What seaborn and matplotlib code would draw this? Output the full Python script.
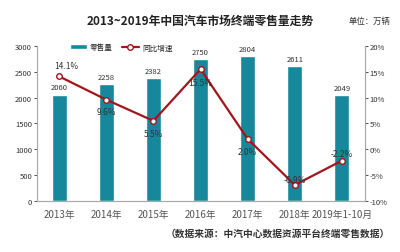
import seaborn as sns
import matplotlib.pyplot as plt
import pandas as pd

years = ["2013年", "2014年", "2015年", "2016年", "2017年", "2018年", "2019年1-10月"]
sales = [2060, 2258, 2382, 2750, 2804, 2611, 2049]
growth = [14.1, 9.6, 5.5, 15.5, 2.0, -6.9, -2.2]
growth_labels = ["14.1%", "9.6%", "5.5%", "15.5%", "2.0%", "-6.9%", "-2.2%"]
left_ticks = [0, 500, 1000, 1500, 2000, 2500, 3000]
right_ticks = [-10, -5, 0, 5, 10, 15, 20]

sns.set_theme(style="white")
plt.rcParams['font.family'] = ['Noto Sans CJK SC', 'DejaVu Sans']

df = pd.DataFrame({"year": years, "sales": sales, "growth": growth, "x": range(len(years))})

fig = plt.figure(figsize=(4, 2.53), dpi=100)
ax = fig.add_axes([0.0925, 0.2016, 0.82, 0.613])

bar_color = "#17879b"
line_color = "#a3141c"

sns.barplot(data=df, x="year", y="sales", color=bar_color, width=0.32, ax=ax,
            saturation=1, label="零售量")
ax.set_xlim(-0.47, 6.49)
ax.set_ylim(0, 3000)
ax.set_yticks(left_ticks)
ax.tick_params(axis='y', labelsize=5.5, length=2, width=0.6, color="#999999", pad=1.5, direction='out')
ax.tick_params(axis='x', labelsize=7, length=0, pad=6, colors="#555555")
ax.set_xlabel("")
ax.set_ylabel("")
for i, v in enumerate(sales):
    ax.text(i, v + 60, str(v), ha='center', va='bottom', fontsize=5.5, color="#333333")

ax2 = ax.twinx()
sns.lineplot(data=df, x="x", y="growth", color=line_color, linewidth=1.6, marker="o",
             markersize=4, markerfacecolor="white", markeredgecolor=line_color,
             markeredgewidth=1, ax=ax2, label="同比增速")
ax2.set_ylim(-10, 20)
ax2.set_yticks(right_ticks)
ax2.set_yticklabels([f"{t}%" for t in right_ticks])
ax2.tick_params(axis='y', labelsize=5.5, length=2, width=0.6, color="#999999", pad=1.5, direction='out')
ax2.set_ylabel("")

offsets = [(3, 2.2), (0, -2.2), (0, -2.4), (0, -2.6), (0, -2.4), (0, 1.0), (0, 1.4)]
for i, (g, lab) in enumerate(zip(growth, growth_labels)):
    dx, dy = offsets[i]
    ax2.text(i + dx * 0.05, g + dy, lab, ha='center', va='center', fontsize=6, color="#333333")

for a in (ax, ax2):
    a.spines['top'].set_visible(False)
    for s in ('left', 'right', 'bottom'):
        a.spines[s].set_color("#aaaaaa")
        a.spines[s].set_linewidth(0.8)
ax.tick_params(axis='y', colors="#333333")
ax2.tick_params(axis='y', colors="#333333")

h1, l1 = ax.get_legend_handles_labels()
h2, l2 = ax2.get_legend_handles_labels()
if ax2.get_legend():
    ax2.get_legend().remove()
ax.legend(h1 + h2, l1 + l2, loc='upper left', bbox_to_anchor=(0.08, 1.06), ncol=2,
          frameon=False, fontsize=5.5, handlelength=2.2, columnspacing=1.2, handletextpad=0.4)

fig.text(0.5, 0.915, "2013~2019年中国汽车市场终端零售量走势", ha='center', va='center',
         fontsize=8.5, fontweight='bold', color="#222222")
fig.text(0.975, 0.915, "单位：万辆", ha='right', va='center', fontsize=6, color="#333333")
fig.text(0.975, 0.075, "（数据来源：中汽中心数据资源平台终端零售数据）", ha='right', va='center',
         fontsize=7, fontweight='bold', color="#333333")

fig.savefig("out.png", dpi=100)
